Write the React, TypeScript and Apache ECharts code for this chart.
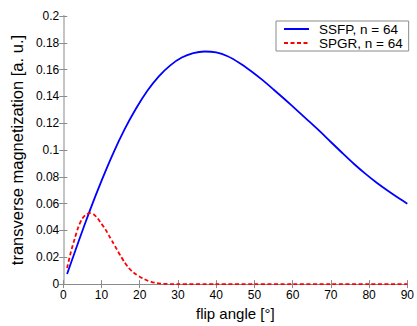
import React, { useEffect, useRef } from "react";
import * as echarts from "echarts";

const ssfpX = [1, 4, 7, 10, 13, 16, 19, 22, 25, 28, 31, 34, 37, 40, 43, 46, 49, 52, 55, 58, 61, 64, 67, 70, 73, 76, 79, 82, 85, 88, 90];
const ssfpY = [0.0075, 0.0318, 0.0552, 0.0770, 0.0972, 0.1152, 0.1308, 0.1442, 0.1550, 0.1632, 0.1690, 0.1723, 0.1735, 0.1728, 0.1700, 0.1652, 0.1592, 0.1525, 0.1452, 0.1377, 0.1300, 0.1222, 0.1143, 0.1060, 0.0978, 0.0898, 0.0824, 0.0756, 0.0694, 0.0636, 0.0600];

const spgrX = [1, 2, 3, 4, 5, 6, 7, 8, 9, 10, 11, 12, 13, 14, 15, 16, 17, 18, 19, 20, 21, 22, 23, 24, 25, 26, 27, 28, 29, 30, 40, 50, 60, 70, 80, 90];
const spgrY = [0.012, 0.024, 0.034, 0.043, 0.049, 0.052, 0.053, 0.052, 0.049, 0.045, 0.041, 0.036, 0.031, 0.026, 0.021, 0.0165, 0.0125, 0.0095, 0.0073, 0.0055, 0.004, 0.0027, 0.0017, 0.001, 0.0005, 0.0002, 0.0001, 0, 0, 0, 0, 0, 0, 0, 0, 0];

const seriesNames = ["SSFP, n = 64", "SPGR, n = 64"];
const xName = "flip angle [°]";
const yName = "transverse magnetization [a. u.]";

const FONT = "'Liberation Sans', Arial, Helvetica, sans-serif";
const AX = "#8a8a8a";

export default function App() {
  const ref = useRef<HTMLDivElement>(null);
  useEffect(() => {
    if (!ref.current) return;
    const chart = echarts.init(ref.current, undefined, { renderer: "svg" });
    const common = {
      type: "value" as const,
      splitLine: { show: false },
    };
    chart.setOption({
      animation: false,
      backgroundColor: "#ffffff",
      textStyle: { fontFamily: FONT },
      grid: { left: 56, top: 16, width: 352, height: 276 },
      legend: {
        left: 276,
        top: 21,
        orient: "vertical",
        data: seriesNames,
        backgroundColor: "#ffffff",
        borderColor: "#8a8a8a",
        borderWidth: 1,
        borderRadius: 0,
        padding: [1, 6, 1, 7],
        itemWidth: 25,
        itemHeight: 14,
        itemGap: 0,
        itemStyle: { opacity: 0 },
        textStyle: { fontSize: 13.5, color: "#000", fontFamily: FONT, lineHeight: 14, padding: [0, 0, 0, 5] },
      },
      xAxis: [
        {
          ...common,
          min: 0,
          max: 90,
          interval: 10,
          name: xName,
          nameLocation: "middle",
          nameGap: 18,
          nameTextStyle: { fontSize: 15, color: "#000", fontFamily: FONT },
          axisLine: { show: true, lineStyle: { color: AX, width: 1 } },
          axisTick: { show: true, inside: true, length: 4, lineStyle: { color: AX } },
          axisLabel: { fontSize: 12, color: "#000", margin: 5, fontFamily: FONT },
        },
        {
          ...common,
          position: "top",
          min: 0,
          max: 90,
          interval: 10,
          axisLine: { show: true, lineStyle: { color: AX, width: 1 } },
          axisTick: { show: true, inside: true, length: 4, lineStyle: { color: AX } },
          axisLabel: { show: false },
        },
      ],
      yAxis: [
        {
          ...common,
          min: 0,
          max: 0.2,
          interval: 0.02,
          name: yName,
          nameLocation: "middle",
          nameGap: 31,
          nameTextStyle: { fontSize: 16.5, color: "#000", fontFamily: FONT },
          axisLine: { show: true, lineStyle: { color: AX, width: 1 } },
          axisTick: { show: true, inside: true, length: 4, lineStyle: { color: AX } },
          axisLabel: { fontSize: 12, color: "#000", margin: 4, fontFamily: FONT },
        },
        {
          ...common,
          position: "right",
          min: 0,
          max: 0.2,
          interval: 0.02,
          axisLine: { show: true, lineStyle: { color: "#c4c4c4", width: 2 } },
          axisTick: { show: true, inside: true, length: 4, lineStyle: { color: AX } },
          axisLabel: { show: false },
        },
      ],
      series: [
        {
          name: seriesNames[0],
          type: "line",
          xAxisIndex: 0,
          yAxisIndex: 0,
          smooth: 0.25,
          symbol: "none",
          data: ssfpX.map((x, i) => [x, ssfpY[i]]),
          lineStyle: { color: "#0000ff", width: 1.8 },
          itemStyle: { color: "#0000ff" },
          z: 3,
        },
        {
          name: seriesNames[1],
          type: "line",
          xAxisIndex: 0,
          yAxisIndex: 0,
          smooth: 0.25,
          symbol: "none",
          data: spgrX.map((x, i) => [x, spgrY[i]]),
          lineStyle: { color: "#ff0000", width: 1.8, type: [4, 2.5] },
          itemStyle: { color: "#ff0000" },
          z: 4,
        },
      ],
    });
    return () => chart.dispose();
  }, []);
  return <div ref={ref} style={{ width: 417, height: 326, position: "absolute", left: 0, top: 0 }} />;
}
